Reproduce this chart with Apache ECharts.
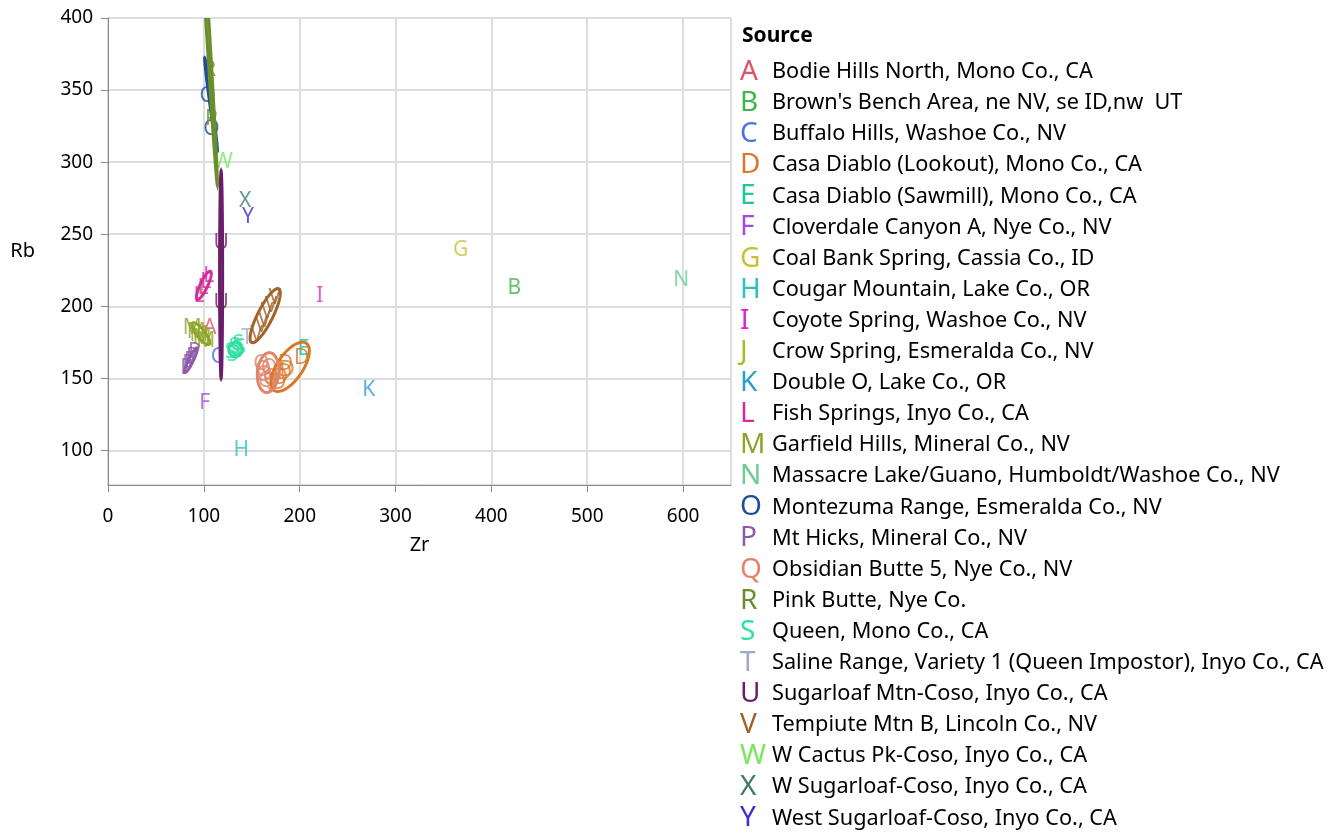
<!DOCTYPE html>
<html>
<head>
<meta charset="utf-8">
<script src="https://cdn.jsdelivr.net/npm/echarts@6/dist/echarts.min.js"></script>
<style>
  html, body { margin: 0; padding: 0; background: #fff; }
  #chart { width: 1336px; height: 834px; }
</style>
</head>
<body>
<div id="chart"></div>
<script>
// sources, in legend order
var letters = ['A', 'B', 'C', 'D', 'E', 'F', 'G', 'H', 'I', 'J', 'K', 'L', 'M',
  'N', 'O', 'P', 'Q', 'R', 'S', 'T', 'U', 'V', 'W', 'X', 'Y']
var sources = [
  'Bodie Hills North, Mono Co., CA',
  "Brown's Bench Area, ne NV, se ID,nw  UT",
  'Buffalo Hills, Washoe Co., NV',
  'Casa Diablo (Lookout), Mono Co., CA',
  'Casa Diablo (Sawmill), Mono Co., CA',
  'Cloverdale Canyon A, Nye Co., NV',
  'Coal Bank Spring, Cassia Co., ID',
  'Cougar Mountain, Lake Co., OR',
  'Coyote Spring, Washoe Co., NV',
  'Crow Spring, Esmeralda Co., NV',
  'Double O, Lake Co., OR',
  'Fish Springs, Inyo Co., CA',
  'Garfield Hills, Mineral Co., NV',
  'Massacre Lake/Guano, Humboldt/Washoe Co., NV',
  'Montezuma Range, Esmeralda Co., NV',
  'Mt Hicks, Mineral Co., NV',
  'Obsidian Butte 5, Nye Co., NV',
  'Pink Butte, Nye Co.',
  'Queen, Mono Co., CA',
  'Saline Range, Variety 1 (Queen Impostor), Inyo Co., CA',
  'Sugarloaf Mtn-Coso, Inyo Co., CA',
  'Tempiute Mtn B, Lincoln Co., NV',
  'W Cactus Pk-Coso, Inyo Co., CA',
  'W Sugarloaf-Coso, Inyo Co., CA',
  'West Sugarloaf-Coso, Inyo Co., CA'
]
var colors = ['#e2506a', '#3cb84a', '#4a72e0', '#d9782a', '#22c49a', '#a54ae0',
  '#c8c232', '#2ac4bc', '#d62ad6', '#9ac02a', '#2aa0c8', '#d62a9e', '#8fa52a',
  '#6ccc92', '#1e4e9a', '#8e5aaa', '#e0846a', '#6a8e2a', '#2ee0a0', '#a0a8d0',
  '#6a1e6a', '#a0642a', '#7ae65a', '#3e7a6a', '#3a30d6']

// [Zr, Rb] per source
var points = [
  [[106, 185]],
  [[424, 213]],
  [[114, 165]],
  [[202, 164], [185, 160], [187, 156], [184, 154], [180, 150], [178, 147]],
  [[204, 170]],
  [[101, 133]],
  [[368, 239]],
  [[139, 100]],
  [[221, 207]],
  [[98, 212]],
  [[272, 142]],
  [[95, 207], [99, 213], [102, 217], [105, 221]],
  [[88, 185], [92, 182], [95, 180], [98, 178], [102, 176]],
  [[598, 218]],
  [[104, 346], [108, 323]],
  [[82, 157], [84, 160], [86, 162], [88, 165], [90, 168]],
  [[160, 160], [162, 156], [163, 152], [165, 148], [168, 157], [170, 150]],
  [[106, 364], [108, 330]],
  [[128, 168], [130, 166], [132, 172], [133, 169], [135, 170], [136, 174], [138, 171]],
  [[145, 178]],
  [[118, 244], [118, 202]],
  [[155, 180], [160, 186], [163, 190], [166, 196], [170, 200], [174, 206]],
  [[120, 300]],
  [[143, 273]],
  [[146, 262]]
]

// confidence ellipses: [letter, centre Zr, centre Rb, semi-major, semi-minor, angle deg]
var ellipses = [
  ['D', 190, 158, 24, 11, 38],
  ['L', 100, 214.5, 12, 3.5, 53],
  ['M', 97, 181, 11.5, 3.5, -38],
  ['O', 107.5, 340, 33, 1.2, -78.5],
  ['P', 86.5, 162.5, 10.5, 2.2, 53],
  ['Q', 167, 154, 14, 11, 75],
  ['R', 103.5, 400, 116.5, 1.6, -84.8],
  ['S', 133, 170, 7, 5, 0],
  ['U', 118, 222, 72, 1.6, 90],
  ['V', 164, 193.5, 23.5, 7, 51]
]

var chart = echarts.init(document.getElementById('chart'))
var font = 'Noto Sans'

var rich = { t: { fontSize: 21.7, fontFamily: font, color: '#000' } }
letters.forEach(function (l, i) {
  rich['l' + i] = { fontSize: 28, fontFamily: font, color: colors[i], width: 32 }
})

var series = []
sources.forEach(function (name, i) {
  series.push({
    name: name,
    type: 'scatter',
    symbolSize: 0,
    itemStyle: { color: colors[i] },
    label: {
      show: true,
      position: 'inside',
      formatter: letters[i],
      fontSize: 21,
      fontFamily: font,
      color: colors[i]
    },
    emphasis: { disabled: true },
    z: 3,
    data: points[i]
  })
})

ellipses.forEach(function (e) {
  var i = letters.indexOf(e[0])
  series.push({
    name: sources[i],
    type: 'custom',
    itemStyle: { color: colors[i] },
    z: 4,
    clip: true,
    renderItem: function (params, api) {
      var ang = api.value(4) * Math.PI / 180
      var a = api.value(2)
      var b = api.value(3)
      var pts = []
      for (var k = 0; k <= 90; k++) {
        var t = k / 90 * 2 * Math.PI
        pts.push(api.coord([
          api.value(0) + a * Math.cos(t) * Math.cos(ang) - b * Math.sin(t) * Math.sin(ang),
          api.value(1) + a * Math.cos(t) * Math.sin(ang) + b * Math.sin(t) * Math.cos(ang)
        ]))
      }
      var cs = params.coordSys
      return {
        type: 'polygon',
        shape: { points: pts },
        style: { fill: null, stroke: colors[i], lineWidth: 3 },
        clipPath: { type: 'rect', shape: { x: cs.x, y: cs.y, width: cs.width, height: cs.height } }
      }
    },
    data: [e.slice(1)]
  })
})

chart.setOption({
  animation: false,
  title: {
    text: 'Source',
    left: 737,
    top: 21,
    textStyle: { fontSize: 21, fontWeight: 'bold', fontFamily: font, color: '#000' }
  },
  legend: {
    orient: 'vertical',
    left: 735,
    top: 58,
    icon: 'none',
    itemWidth: 0,
    itemHeight: 28,
    itemGap: 3.1,
    padding: 0,
    data: sources,
    formatter: function (name) {
      var i = sources.indexOf(name)
      return '{l' + i + '|' + letters[i] + '}{t|' + name + '}'
    },
    textStyle: { rich: rich }
  },
  grid: {
    left: 108,
    top: 18,
    width: 623,
    height: 467,
    show: true,
    borderColor: '#aaa',
    borderWidth: 1
  },
  xAxis: {
    type: 'value',
    min: 0,
    max: 650,
    name: 'Zr',
    nameLocation: 'middle',
    nameGap: 50,
    nameTextStyle: { fontSize: 20, fontFamily: font, color: '#000' },
    axisLine: { onZero: false, lineStyle: { color: '#888' } },
    axisTick: { length: 7, lineStyle: { color: '#888' } },
    axisLabel: { fontSize: 19, fontFamily: font, color: '#000', margin: 22, showMaxLabel: false },
    splitLine: { lineStyle: { color: '#ddd', width: 2 } }
  },
  yAxis: {
    type: 'value',
    min: 76,
    max: 400,
    name: 'Rb',
    nameLocation: 'middle',
    nameRotate: 0,
    nameGap: 73,
    nameTextStyle: { fontSize: 20, fontFamily: font, color: '#000' },
    axisLine: { onZero: false, lineStyle: { color: '#888' } },
    axisTick: { length: 7, lineStyle: { color: '#888' } },
    axisLabel: { fontSize: 19, fontFamily: font, color: '#000', margin: 15, showMinLabel: false },
    splitLine: { lineStyle: { color: '#ddd', width: 2 } }
  },
  series: series
})
</script>
</body>
</html>
